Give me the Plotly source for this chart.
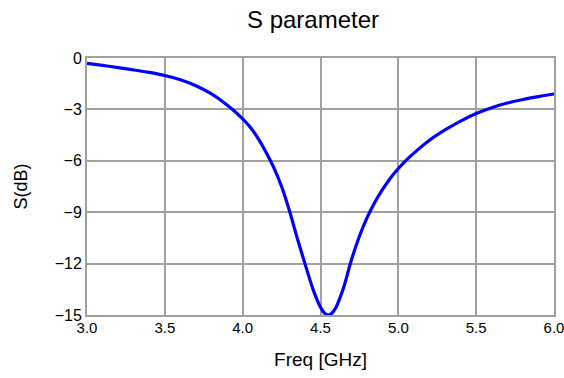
import plotly.graph_objects as go

freq_ghz = [3.0, 3.1, 3.2, 3.3, 3.4, 3.5, 3.6, 3.7, 3.8, 3.9, 4.0, 4.05, 4.1,
            4.15, 4.2, 4.25, 4.3, 4.35, 4.4, 4.45, 4.475, 4.5, 4.525, 4.55,
            4.575, 4.6, 4.625, 4.65, 4.7, 4.75, 4.8, 4.85, 4.9, 4.95, 5.0,
            5.05, 5.1, 5.2, 5.3, 5.4, 5.5, 5.6, 5.7, 5.8, 5.9, 6.0]
s_db = [-0.31, -0.43, -0.56, -0.70, -0.84, -1.02, -1.27, -1.62, -2.10, -2.75,
        -3.55, -4.05, -4.70, -5.50, -6.40, -7.50, -8.90, -10.50, -12.00, -13.45,
        -14.05, -14.55, -14.88, -15.00, -14.88, -14.55, -14.00, -13.35, -11.75,
        -10.40, -9.30, -8.40, -7.65, -7.00, -6.45, -5.97, -5.55, -4.80, -4.20,
        -3.68, -3.24, -2.90, -2.63, -2.42, -2.25, -2.10]

x_ticks = [3.0, 3.5, 4.0, 4.5, 5.0, 5.5, 6.0]
x_tick_labels = ["3.0", "3.5", "4.0", "4.5", "5.0", "5.5", "6.0"]
y_ticks = [0, -3, -6, -9, -12, -15]
y_tick_labels = ["0", "\u22123", "\u22126", "\u22129", "\u221212", "\u221215"]

font_family = "Liberation Sans, Arial, sans-serif"

fig = go.Figure()
fig.add_trace(go.Scatter(
    x=freq_ghz, y=s_db, mode="lines",
    line=dict(color="#0000ff", width=3.2, shape="spline", smoothing=1.0),
    showlegend=False, hoverinfo="x+y",
))

grid = "#a0a0a0"
fig.update_layout(
    width=564, height=378,
    margin=dict(l=87, r=10, t=58, b=63),
    paper_bgcolor="white", plot_bgcolor="white",
    font=dict(family=font_family, color="#000000", size=16),
    title=dict(text="S parameter", x=0.555, xanchor="center", y=0.947, yanchor="middle",
               font=dict(size=24, family=font_family, color="#000000")),
    xaxis=dict(
        range=[3.0, 6.0], tickvals=x_ticks, ticktext=x_tick_labels,
        showgrid=True, gridcolor=grid, gridwidth=1.6,
        showline=True, linecolor=grid, linewidth=2, mirror=True,
        zeroline=False, ticks="", ticklen=0, tickfont=dict(size=15),
        ticklabeloverflow="allow", ticklabelstandoff=-2,
        automargin=False,
        title=dict(text="Freq [GHz]", font=dict(size=19), standoff=18),
    ),
    yaxis=dict(
        range=[-15, 0], tickvals=y_ticks, ticktext=y_tick_labels,
        showgrid=True, gridcolor=grid, gridwidth=1.6,
        showline=True, linecolor=grid, linewidth=2, mirror=True,
        zeroline=False, ticks="", ticklen=0, tickfont=dict(size=16),
        ticklabeloverflow="allow",
        automargin=False,
        title=dict(text="S(dB)", font=dict(size=18), standoff=22),
    ),
)

fig.write_html("out.html", config={"displayModeBar": False},
               post_script="document.body.style.margin='0';")
